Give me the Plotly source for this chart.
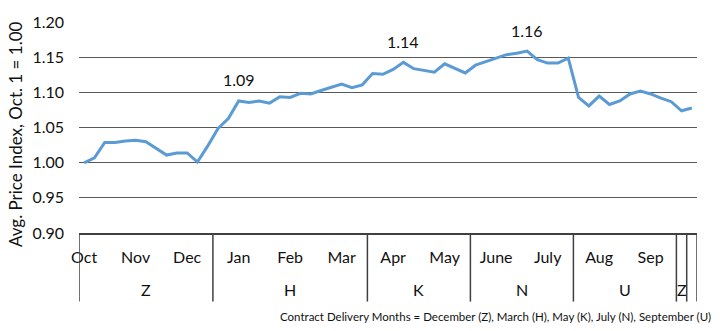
import plotly.graph_objects as go

# Average price index, one value per period (5 periods per month, Oct..Sep)
price_index = [
    1.000, 1.007, 1.029, 1.029, 1.031, 1.032, 1.030, 1.021, 1.011, 1.014,
    1.014, 1.001, 1.024, 1.049, 1.063, 1.088, 1.086, 1.088, 1.085, 1.094,
    1.093, 1.099, 1.098, 1.103, 1.107, 1.112, 1.107, 1.111, 1.127, 1.126,
    1.133, 1.143, 1.134, 1.132, 1.129, 1.141, 1.135, 1.128, 1.139, 1.144,
    1.150, 1.154, 1.156, 1.159, 1.147, 1.142, 1.142, 1.149, 1.093, 1.081,
    1.095, 1.083, 1.088, 1.098, 1.102, 1.098, 1.092, 1.087, 1.074, 1.078,
]
periods = list(range(len(price_index)))

# Month labels and the period where each one sits
month_labels = ["Oct", "Nov", "Dec", "Jan", "Feb", "Mar",
                "Apr", "May", "June", "July", "Aug", "Sep"]
month_periods = [0, 5, 10, 15, 20, 25, 30, 35, 40, 45, 50, 55]

# Contract groups: label, first period, last period
contract_labels = ["Z", "H", "K", "N", "U", "Z", ""]
contract_first = [0, 13, 28, 38, 48, 58, 59]
contract_last = [12, 27, 37, 47, 57, 58, 59]

# Periods that carry a value label
labelled_periods = [15, 31, 43]

FONT = "Lato, 'Noto Sans', sans-serif"
TEXT = "#111111"
LINE_BLUE = "#5B9BD5"

fig = go.Figure()
fig.add_trace(go.Scatter(
    x=periods, y=price_index, mode="lines",
    line=dict(color=LINE_BLUE, width=3),
    hoverinfo="skip", showlegend=False,
))

annotations = []
for p in labelled_periods:
    annotations.append(dict(
        x=p, y=price_index[p], xref="x", yref="y",
        text=f"{price_index[p]:.2f}", showarrow=False,
        yshift=21, font=dict(family=FONT, size=16, color=TEXT),
    ))

# Contract-month letters under the month row
for lab, a, b in zip(contract_labels, contract_first, contract_last):
    if lab:
        annotations.append(dict(
            x=(a + b) / 2, y=-0.27, xref="x", yref="paper",
            text=lab, showarrow=False, yanchor="middle",
            font=dict(family=FONT, size=16, color=TEXT),
        ))

# Vertical group dividers below the plot
shapes = []
bounds = sorted(set([a - 0.5 for a in contract_first] + [contract_last[-1] + 0.5]))
for bx in bounds:
    shapes.append(dict(
        type="line", xref="x", yref="paper",
        x0=bx, x1=bx, y0=0, y1=-0.325,
        line=dict(color="#404040", width=1.5),
    ))

# Y-axis title
annotations.append(dict(
    x=-0.1015, y=0.47, xref="paper", yref="paper",
    text="Avg. Price Index, Oct. 1 = 1.00", textangle=-90,
    showarrow=False, xanchor="center", yanchor="middle",
    font=dict(family=FONT, size=17, color=TEXT),
))

# Footnote
annotations.append(dict(
    x=1.026, y=-0.394, xref="paper", yref="paper",
    text="Contract Delivery Months = December (Z), March (H), May (K), July (N), September (U)",
    showarrow=False, xanchor="right", yanchor="middle",
    font=dict(family=FONT, size=11.5, color=TEXT),
))

fig.update_layout(
    width=720, height=331,
    margin=dict(l=79, r=23, t=17, b=98),
    paper_bgcolor="white", plot_bgcolor="white",
    annotations=annotations, shapes=shapes,
    font=dict(family=FONT, color=TEXT),
)
fig.update_xaxes(
    range=[-0.5, 59.5],
    tickmode="array", tickvals=month_periods, ticktext=month_labels,
    tickfont=dict(family=FONT, size=16, color=TEXT),
    ticklabelstandoff=9,
    showgrid=False, zeroline=False,
    showline=True, linecolor="#404040", linewidth=1.5,
)
fig.update_yaxes(
    range=[0.9, 1.2005], dtick=0.05, tick0=0.9, tickformat=".2f",
    tickfont=dict(family=FONT, size=16, color=TEXT),
    ticklabelstandoff=14,
    showgrid=True, gridcolor="#595959", gridwidth=1.3,
    zeroline=False, showline=False,
)

fig.write_html("out.html")
